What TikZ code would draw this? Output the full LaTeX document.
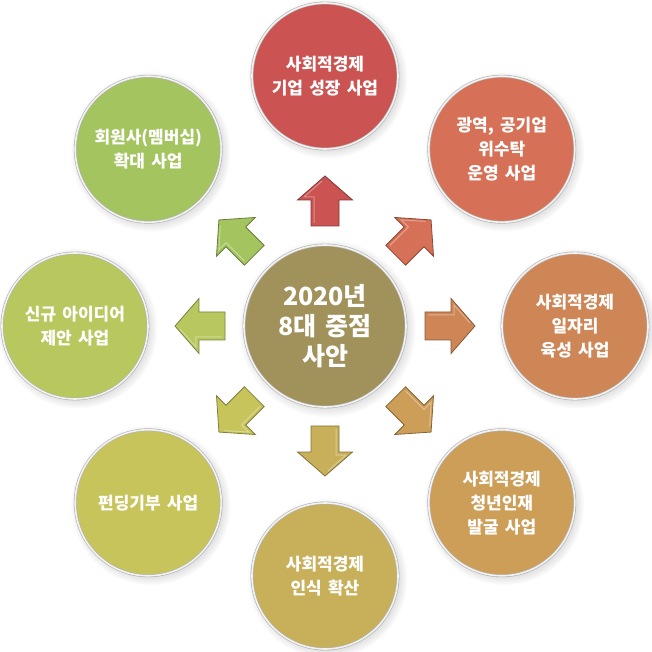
\documentclass[tikz,border=0pt]{standalone}
\usepackage{fontspec}
\setmainfont{Noto Sans CJK KR}[WordSpace=1.6]
\usepackage{tikz}
\usetikzlibrary{shadows}
\definecolor{cHub}{RGB}{161,146,91}
\definecolor{cA}{RGB}{203,84,82}
\definecolor{cB}{RGB}{214,112,86}
\definecolor{cC}{RGB}{207,134,86}
\definecolor{cD}{RGB}{205,158,88}
\definecolor{cE}{RGB}{200,176,90}
\definecolor{cF}{RGB}{200,196,92}
\definecolor{cG}{RGB}{184,200,95}
\definecolor{cH}{RGB}{163,196,95}

\tikzset{
    disc/.style={circle, inner sep=0pt, draw=gray!60, line width=.6pt,
        double=white!90!gray, double distance=1.6pt, text=white, align=center,
        circular drop shadow={shadow xshift=2pt, shadow yshift=-2pt, opacity=.3}},
    hub/.style={disc, minimum size=162pt, fill=cHub,
        font={\bfseries\fontsize{25}{30}\selectfont}},
    item/.style={disc, minimum size=146pt,
        font={\bfseries\fontsize{17}{24}\selectfont}},
    arrowbody/.style={line width=.8pt, line join=miter},
    arrowglint/.style={draw=white, opacity=.35, line width=1pt}
}

\begin{document}
\begin{tikzpicture}[x=1pt,y=1pt]
    \useasboundingbox (-325,-326) rectangle (326,326);

    % 가운데 원
    \node[hub] (hub) at (0,0) {2020년\\8대 중점\\사안};

    % 바깥 원과 화살표
    \foreach \ang/\col/\txt [count=\i] in {
        90/cA/{사회적경제\\기업 성장 사업},
        45/cB/{광역, 공기업\\위수탁\\운영 사업},
        0/cC/{사회적경제\\일자리\\육성 사업},
        -45/cD/{사회적경제\\청년인재\\발굴 사업},
        -90/cE/{사회적경제\\인식 확산},
        -135/cF/{펀딩기부 사업},
        180/cG/{신규 아이디어\\제안 사업},
        135/cH/{회원사(멤버십)\\확대 사업}} {
        \node[item, fill=\col] (item\i) at (\ang:250) {\txt};
        \begin{scope}[shift={(\ang:125)}, rotate=\ang]
            \filldraw[arrowbody, fill=\col, draw=\col!65!black]
                (-25,-14) -- (1,-14) -- (1,-27.5) -- (25,0) -- (1,27.5) -- (1,14) -- (-25,14) -- cycle;
            \draw[arrowglint] (-22,11) -- (4,11) -- (4,21) -- (20,3);
        \end{scope}
    }
\end{tikzpicture}
\end{document}
